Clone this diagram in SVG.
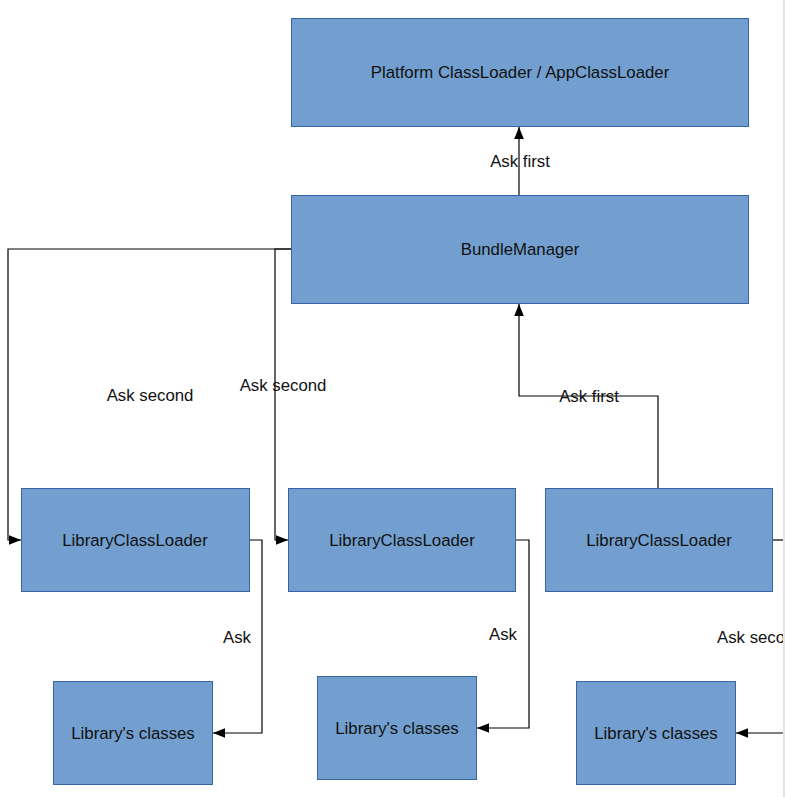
<svg xmlns="http://www.w3.org/2000/svg" width="785" height="797" viewBox="0 0 785 797">
<style>
.box{fill:#729fcf;stroke:#3465a4;stroke-width:1}
.lbl{font-family:"Liberation Sans",Arial,sans-serif;font-size:16.8px;fill:#111;text-anchor:middle;dominant-baseline:central}
.conn{fill:none;stroke:#000;stroke-width:1.2}
</style>
<defs>
<marker id="ah" viewBox="0 0 10 10" refX="10" refY="5" markerWidth="12" markerHeight="12" markerUnits="userSpaceOnUse" orient="auto">
<path d="M0,1 L10,5 L0,9 Z" fill="#000"/>
</marker>
<clipPath id="page"><rect x="0" y="0" width="783" height="797"/></clipPath>
</defs>
<rect width="785" height="797" fill="#fff"/>
<g clip-path="url(#page)">
<g id="connectors">
<path class="conn" d="M519,195 V127" marker-end="url(#ah)"/>
<path class="conn" d="M291,249 H8 V540 H21" marker-end="url(#ah)"/>
<path class="conn" d="M291,249 H275 V540 H288" marker-end="url(#ah)"/>
<path class="conn" d="M658,488 V396 H519 V304" marker-end="url(#ah)"/>
<path class="conn" d="M249,540 H262 V733 H213" marker-end="url(#ah)"/>
<path class="conn" d="M515,540 H529 V728 H477" marker-end="url(#ah)"/>
<path class="conn" d="M772,540 H790"/>
<path class="conn" d="M790,733 H736" marker-end="url(#ah)"/>
<text class="lbl" x="520" y="161">Ask first</text>
<text class="lbl" x="150" y="395">Ask second</text>
<text class="lbl" x="283" y="385">Ask second</text>
<text class="lbl" x="589" y="396">Ask first</text>
<text class="lbl" x="237" y="637">Ask</text>
<text class="lbl" x="503" y="634">Ask</text>
<text class="lbl" x="717" y="637" style="text-anchor:start">Ask second</text>
</g>
<g id="platform"><rect class="box" x="291.5" y="18.5" width="457" height="108"/><text class="lbl" x="520" y="72">Platform ClassLoader / AppClassLoader</text></g>
<g id="bundlemanager"><rect class="box" x="291.5" y="195.5" width="457" height="108"/><text class="lbl" x="520" y="249">BundleManager</text></g>
<g id="lcl1"><rect class="box" x="21.5" y="488.5" width="228" height="103"/><text class="lbl" x="135" y="540">LibraryClassLoader</text></g>
<g id="lcl2"><rect class="box" x="288.5" y="488.5" width="227" height="103"/><text class="lbl" x="402" y="540">LibraryClassLoader</text></g>
<g id="lcl3"><rect class="box" x="545.5" y="488.5" width="227" height="103"/><text class="lbl" x="659" y="540">LibraryClassLoader</text></g>
<g id="lib1"><rect class="box" x="53.5" y="681.5" width="159" height="103"/><text class="lbl" x="133" y="733">Library's classes</text></g>
<g id="lib2"><rect class="box" x="317.5" y="676.5" width="159" height="103"/><text class="lbl" x="397" y="728">Library's classes</text></g>
<g id="lib3"><rect class="box" x="576.5" y="681.5" width="159" height="103"/><text class="lbl" x="656" y="733">Library's classes</text></g>
</g>
<rect x="783" y="0" width="2" height="797" fill="#e3e3e3"/>
</svg>
